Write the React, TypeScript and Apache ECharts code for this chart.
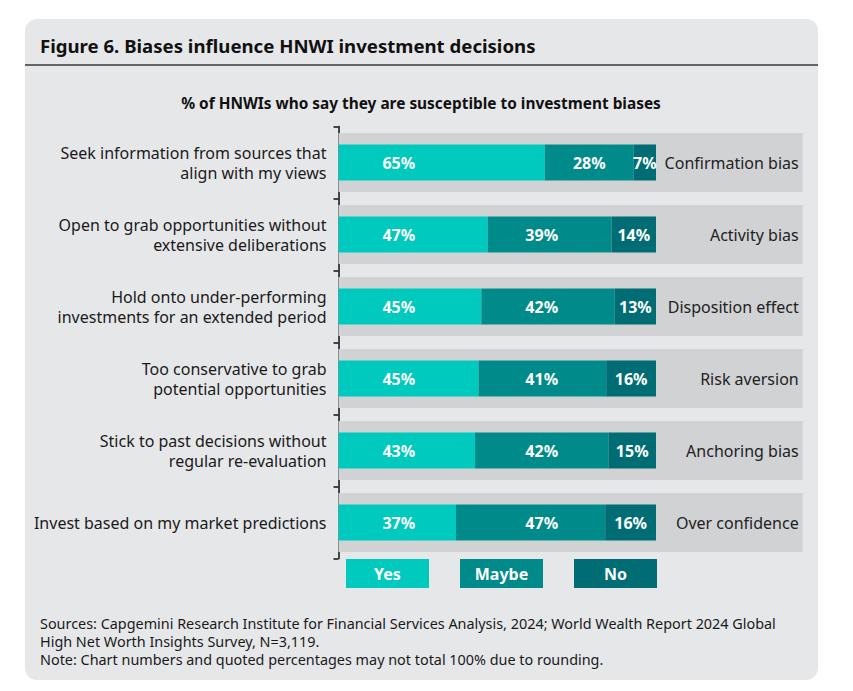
import React, { useEffect, useRef } from "react";
import * as echarts from "echarts";

const statements = [
  "Seek information from sources that\nalign with my views",
  "Open to grab opportunities without\nextensive deliberations",
  "Hold onto under-performing\ninvestments for an extended period",
  "Too conservative to grab\npotential opportunities",
  "Stick to past decisions without\nregular re-evaluation",
  "Invest based on my market predictions",
];
const biasNames = [
  "Confirmation bias",
  "Activity bias",
  "Disposition effect",
  "Risk aversion",
  "Anchoring bias",
  "Over confidence",
];
const yesValues = [65, 47, 45, 45, 43, 37];
const maybeValues = [28, 39, 42, 41, 42, 47];
const noValues = [7, 14, 13, 16, 15, 16];
const seriesNames = ["Yes", "Maybe", "No"];
const seriesColors = ["#00c9be", "#008b8a", "#006d74"];

const titleText = "Figure 6. Biases influence HNWI investment decisions";
const subtitleText = "% of HNWIs who say they are susceptible to investment biases";
const footerLines = [
  "Sources: Capgemini Research Institute for Financial Services Analysis, 2024; World Wealth Report 2024 Global",
  "High Net Worth Insights Survey, N=3,119.",
  "Note: Chart numbers and quoted percentages may not total 100% due to rounding.",
];

const FONT = '"Noto Sans", "Open Sans", sans-serif';

export default function App() {
  const ref = useRef<HTMLDivElement>(null);

  useEffect(() => {
    document.body.style.margin = "0";
    if (!ref.current) return;
    const chart = echarts.init(ref.current, null, { renderer: "svg" });

    const W = 853;
    const gridLeft = 338.5;
    const gridRight = 50.3;
    const axisMax = 146.2;
    const pxPer = (W - gridLeft - gridRight) / axisMax;
    const yesAnchor = 19;
    const maybeAnchor = 64;

    const raw = [yesValues, maybeValues, noValues];
    const totals = yesValues.map((v, i) => v + maybeValues[i] + noValues[i]);
    const shares = raw.map((arr) => arr.map((v, i) => (v / totals[i]) * 100));

    const labelBase = {
      show: true,
      color: "#ffffff",
      fontWeight: "bold" as const,
      fontSize: 16,
      fontFamily: FONT,
      align: "center" as const,
      verticalAlign: "middle" as const,
    };

    const stackSeries = seriesNames.map((name, s) => ({
      name,
      type: "bar",
      stack: "total",
      yAxisIndex: 0,
      barWidth: 36,
      itemStyle: { color: seriesColors[s] },
      data: shares[s].map((v, i) => {
        const start = s === 0 ? 0 : s === 1 ? shares[0][i] : shares[0][i] + shares[1][i];
        let position: any = "inside";
        if (s === 0) position = [yesAnchor * pxPer, "50%"];
        if (s === 1 && start < maybeAnchor - 5) position = [(maybeAnchor - start) * pxPer, "50%"];
        return { value: v, label: { position } };
      }),
      label: {
        ...labelBase,
        formatter: (p: any) => raw[s][p.dataIndex] + "%",
      },
    }));

    const option: any = {
      animation: false,
      textStyle: { fontFamily: FONT },
      grid: { left: gridLeft, right: gridRight, top: 126.5, height: 432, containLabel: false },
      xAxis: { type: "value", min: 0, max: axisMax, show: false },
      yAxis: [
        {
          type: "category",
          data: statements,
          inverse: true,
          axisLine: { show: true, lineStyle: { color: "#111", width: 1.5 } },
          axisTick: { show: true, length: 5, lineStyle: { color: "#111", width: 1.5 } },
          axisLabel: {
            margin: 12,
            color: "#1a1a1a",
            fontSize: 16,
            lineHeight: 20,
            fontFamily: FONT,
            align: "right",
          },
          splitLine: { show: false },
        },
        {
          type: "category",
          data: statements,
          inverse: true,
          show: false,
        },
      ],
      legend: {
        data: seriesNames,
        left: 336,
        top: 554,
        icon: "none",
        itemWidth: 0,
        itemHeight: 29,
        itemGap: 26,
        selectedMode: false,
        formatter: (name: string) => `{${name}|${name}}`,
        textStyle: {
          rich: Object.fromEntries(
            seriesNames.map((n, i) => [
              n,
              {
                backgroundColor: seriesColors[i],
                width: 83,
                height: 29,
                lineHeight: 29,
                align: "center",
                color: "#ffffff",
                fontWeight: "bold",
                fontSize: 16,
                fontFamily: FONT,
              },
            ])
          ),
        },
      },
      graphic: [
        {
          type: "rect",
          z: -10,
          silent: true,
          shape: { x: 25, y: 19, width: 793, height: 661, r: 12 },
          style: { fill: "#e6e7e9" },
        },
        {
          type: "line",
          silent: true,
          shape: { x1: 25, y1: 65, x2: 818, y2: 65 },
          style: { stroke: "#3a3a3a", lineWidth: 1.5 },
        },
        {
          type: "text",
          x: 40,
          y: 45,
          style: {
            text: titleText,
            fill: "#111",
            font: `bold 18.6px ${FONT}`,
            textAlign: "left",
            textVerticalAlign: "middle",
          },
        },
        {
          type: "text",
          x: 421,
          y: 103,
          style: {
            text: subtitleText,
            fill: "#111",
            font: `bold 15.4px ${FONT}`,
            textAlign: "center",
            textVerticalAlign: "middle",
          },
        },
        ...footerLines.map((t, i) => ({
          type: "text",
          x: 40,
          y: 623 + i * 18,
          style: {
            text: t,
            fill: "#1a1a1a",
            font: `14.4px ${FONT}`,
            textAlign: "left",
            textVerticalAlign: "middle",
          },
        })),
      ],
      series: [
        {
          name: "backdrop",
          type: "bar",
          yAxisIndex: 1,
          barWidth: 59,
          silent: true,
          itemStyle: { color: "#d1d2d4" },
          data: biasNames.map(() => axisMax),
          label: {
            show: true,
            position: "insideRight",
            distance: 4,
            color: "#222",
            fontSize: 16,
            fontFamily: FONT,
            formatter: (p: any) => biasNames[p.dataIndex],
          },
        },
        ...stackSeries,
      ],
    };

    chart.setOption(option);
    return () => chart.dispose();
  }, []);

  return <div ref={ref} style={{ width: 853, height: 691 }} />;
}
